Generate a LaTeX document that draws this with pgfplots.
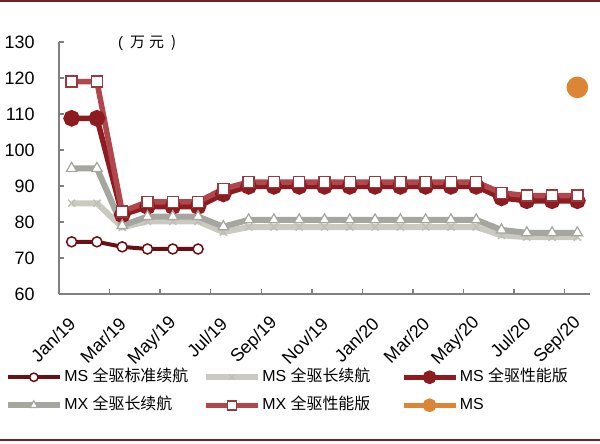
\documentclass[border=0pt]{standalone}
\usepackage{fontspec}
\setmainfont{Liberation Sans}
\newfontfamily\cjk{Noto Sans CJK SC}
\usepackage{pgfplots}
\pgfplotsset{compat=1.18}

\definecolor{msstd}{HTML}{6A0F14}
\definecolor{mslong}{HTML}{CACAC0}
\definecolor{msperf}{HTML}{8C1C20}
\definecolor{mxlong}{HTML}{A6A6A0}
\definecolor{mxperf}{HTML}{B0474C}
\definecolor{mxperfedge}{HTML}{9A3A40}
\definecolor{plaid}{HTML}{DB8535}
\definecolor{frame}{HTML}{72202C}

\begin{document}
\begin{tikzpicture}
\path[use as bounding box] (0,0) rectangle (600bp,444bp);
\draw[frame, line width=2.5bp] (0,443bp) -- (600bp,443bp);
\draw[frame, line width=2bp] (0,4bp) -- (600bp,4bp);
\begin{axis}[
    at={(59bp,150bp)}, anchor=south west,
    scale only axis,
    width=531bp, height=252bp,
    xmin=-0.5, xmax=20.5,
    ymin=60, ymax=130,
    clip=false,
    axis x line*=bottom, axis y line*=left,
    axis line style={draw=gray, line width=1.8bp},
    tick align=inside,
    major tick length=5bp, minor tick length=5bp,
    tick style={draw=gray, line width=1.5bp},
    ytick={60,70,...,130},
    xtick={0,2,...,20},
    xticklabels={Jan/19,Mar/19,May/19,Jul/19,Sep/19,Nov/19,Jan/20,Mar/20,May/20,Jul/20,Sep/20},
    every major x tick/.style={draw=none},
    minor xtick={1.5,3.5,...,19.5},
    /pgf/number format/assume math mode=true,
    ticklabel style={font=\fontsize{18}{20}\selectfont},
    yticklabel style={xshift=-21bp},
    xticklabel style={xshift=3bp, yshift=-24bp, rotate=45, anchor=east},
    legend columns=3,
    legend cell align=left,
    legend style={draw=none, fill=none,
        at={(axis description cs:-0.108,-0.286)}, anchor=north west,
        font=\fontsize{16}{18}\selectfont,
        nodes={inner sep=1.5bp, text height=12bp, text depth=3bp},
        row sep=10bp},
    legend image code/.code={\draw[mark repeat=2,mark phase=2,#1] plot coordinates {(0bp,0bp) (26bp,0bp) (52bp,0bp)};},
]
% MS 全驱标准续航
\addplot[msstd, line width=4bp, mark=*, mark size=5bp,
    mark options={fill=white, draw=msstd, line width=1.5bp},
    legend image post style={mark size=4.2bp}]
    coordinates {(0,74.5) (1,74.5) (2,73.1) (3,72.5) (4,72.5) (5,72.5)};
\addlegendentry{\makebox[137bp][l]{MS \cjk{全驱标准续航}}}
% MS 全驱长续航
\addplot[mslong, line width=6bp, mark=x, mark size=5bp,
    mark options={draw=mslong!85!gray, line width=1.5bp},
    legend image post style={mark size=3.5bp}]
    coordinates {(0,85.2) (1,85.2) (2,78.5) (3,80.2) (4,80.2) (5,80.2) (6,77.2)
    (7,78.6) (8,78.6) (9,78.6) (10,78.6) (11,78.6) (12,78.6) (13,78.6) (14,78.6) (15,78.6) (16,78.6)
    (17,76.3) (18,75.8) (19,75.8) (20,75.8)};
\addlegendentry{\makebox[137bp][l]{MS \cjk{全驱长续航}}}
% MS 全驱性能版
\addplot[msperf, line width=5.5bp, mark=*, mark size=5.5bp,
    mark options={fill=msperf, draw=msperf},
    legend image post style={mark size=4bp}]
    coordinates {(0,108.8) (1,108.8) (2,82.0) (3,84.3) (4,84.3) (5,84.3) (6,87.8)
    (7,89.9) (8,89.9) (9,89.9) (10,89.9) (11,89.9) (12,89.9) (13,89.9) (14,89.9) (15,89.9) (16,89.9)
    (17,86.7) (18,85.9) (19,85.9) (20,85.9)};
\addlegendentry{\makebox[137bp][l]{MS \cjk{全驱性能版}}}
% MX 全驱长续航
\addplot[mxlong, line width=6bp, mark=triangle*, mark size=6bp,
    mark options={fill=white, draw=mxlong, line width=1.2bp},
    legend image post style={mark size=4.5bp}]
    coordinates {(0,94.9) (1,94.9) (2,79.0) (3,81.5) (4,81.5) (5,81.5) (6,78.7)
    (7,80.6) (8,80.6) (9,80.6) (10,80.6) (11,80.6) (12,80.6) (13,80.6) (14,80.6) (15,80.6) (16,80.6)
    (17,77.8) (18,77.0) (19,77.0) (20,77.0)};
\addlegendentry{\makebox[137bp][l]{MX \cjk{全驱长续航}}}
% MX 全驱性能版
\addplot[mxperf, line width=5.5bp, mark=square*, mark size=5.5bp,
    mark options={fill=white, draw=mxperfedge, line width=1.5bp},
    legend image post style={mark size=4.5bp}]
    coordinates {(0,119.0) (1,119.0) (2,82.9) (3,85.6) (4,85.6) (5,85.6) (6,89.2)
    (7,91.1) (8,91.1) (9,91.1) (10,91.1) (11,91.1) (12,91.1) (13,91.1) (14,91.1) (15,91.1) (16,91.1)
    (17,88.1) (18,87.3) (19,87.3) (20,87.3)};
\addlegendentry{\makebox[137bp][l]{MX \cjk{全驱性能版}}}
% MS (orange)
\addplot[plaid, line width=5.5bp, mark=*, mark size=8bp,
    mark options={fill=plaid, draw=plaid},
    legend image post style={mark size=4bp}]
    coordinates {(20,117.4)};
\addlegendentry{\makebox[137bp][l]{MS}}
\node[font=\fontsize{15}{17}\selectfont, anchor=center]
    at (axis description cs:0.166,0.996) {(\hspace{7bp}\cjk{万}\hspace{4bp}\cjk{元}\hspace{7bp})};
\end{axis}
\end{tikzpicture}
\end{document}
